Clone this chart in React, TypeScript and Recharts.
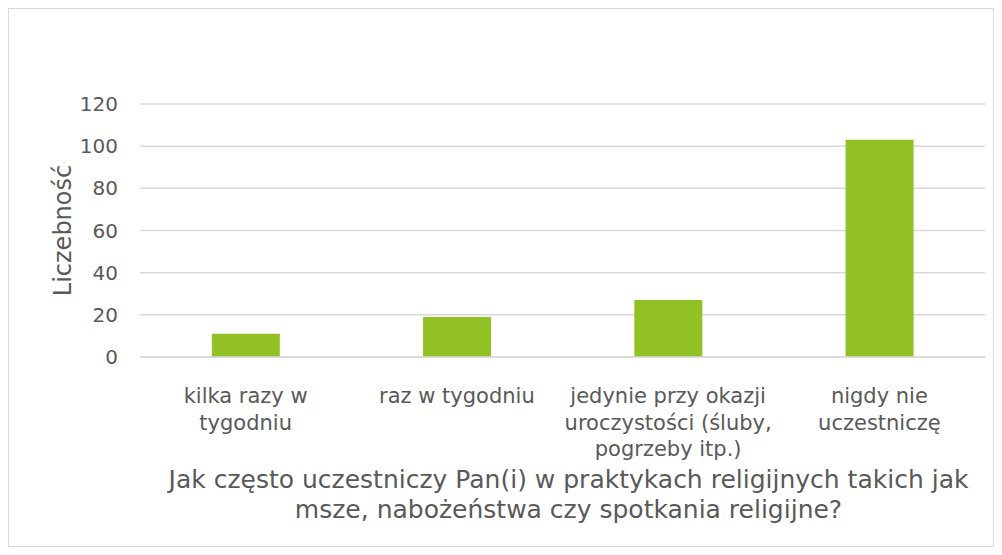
import { Bar, BarChart, CartesianGrid, XAxis, YAxis, Label } from "recharts"

const categories = [
  "kilka razy w tygodniu",
  "raz w tygodniu",
  "jedynie przy okazji uroczystości (śluby, pogrzeby itp.)",
  "nigdy nie uczestniczę",
]
const tickLines = [
  ["kilka razy w", "tygodniu"],
  ["raz w tygodniu"],
  ["jedynie przy okazji", "uroczystości (śluby,", "pogrzeby itp.)"],
  ["nigdy nie", "uczestniczę"],
]
const counts = [11, 19, 27, 103]
const yTicks = [0, 20, 40, 60, 80, 100, 120]
const titleLines = [
  "Jak często uczestniczy Pan(i) w praktykach religijnych takich jak",
  "msze, nabożeństwa czy spotkania religijne?",
]

const data = categories.map((name, i) => ({ name, value: counts[i] }))

const TEXT = "#595959"
const FONT = "'DejaVu Sans', sans-serif"

function CategoryTick(props: any) {
  const { x, y, index } = props
  const lines = tickLines[index] || []
  return (
    <g transform={`translate(${x},${y})`}>
      {lines.map((line, i) => (
        <text key={i} x={0} y={38 + i * 26.5} textAnchor="middle" fill={TEXT} fontSize={21} fontFamily={FONT}>
          {line}
        </text>
      ))}
    </g>
  )
}

function AxisTitle(props: any) {
  const { viewBox } = props
  const cx = viewBox.x + viewBox.width / 2
  return (
    <g>
      {titleLines.map((line, i) => (
        <text key={i} x={cx + 6} y={viewBox.y + 131 + i * 30} textAnchor="middle" fill={TEXT} fontSize={25} fontFamily={FONT}>
          {line}
        </text>
      ))}
    </g>
  )
}

export default function App() {
  return (
    <div style={{ width: 984, height: 537, border: "1px solid #d9d9d9", background: "#fff" }}>
      <BarChart
        width={984}
        height={537}
        data={data}
        margin={{ top: 95, right: 8, bottom: 0, left: 41 }}
        barCategoryGap="34%"
      >
        <CartesianGrid vertical={false} stroke="#d9d9d9" strokeWidth={1.5} />
        <XAxis
          dataKey="name"
          tick={<CategoryTick />}
          tickLine={false}
          axisLine={{ stroke: "#d9d9d9", strokeWidth: 1.5 }}
          height={189}
          interval={0}
        >
          <Label content={<AxisTitle />} />
        </XAxis>
        <YAxis
          domain={[0, 120]}
          ticks={yTicks}
          width={90}
          tickLine={false}
          axisLine={false}
          tickMargin={16}
          tick={{ fill: TEXT, fontSize: 20, fontFamily: FONT }}
        >
          <Label
            value="Liczebność"
            angle={-90}
            position="insideLeft"
            offset={12}
            style={{ textAnchor: "middle", fill: TEXT, fontSize: 24, fontFamily: FONT }}
          />
        </YAxis>
        <Bar dataKey="value" fill="#92c125" isAnimationActive={false} />
      </BarChart>
    </div>
  )
}
